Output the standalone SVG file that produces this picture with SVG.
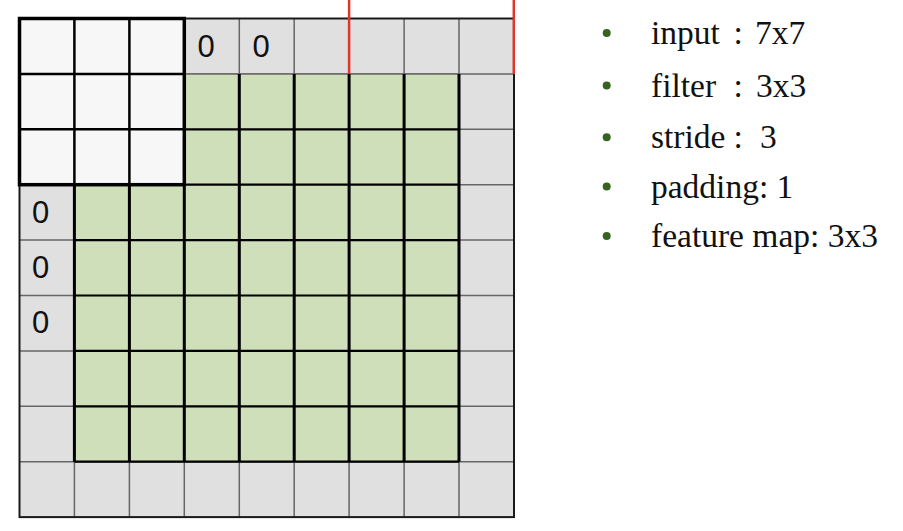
<svg xmlns="http://www.w3.org/2000/svg" width="903" height="531" viewBox="0 0 903 531">
<style>
.grayline{stroke:#666666;stroke-width:1.5;fill:none}
.vb{stroke:#000;stroke-width:3;fill:none}
.hb{stroke:#000;stroke-width:2.2;fill:none}
.zero{font-family:"Liberation Sans",Arial,sans-serif;font-size:31px;fill:#111}
.lg{font-family:"Liberation Serif","Times New Roman",serif;font-size:33.5px;fill:#111}
.bul{fill:#376321}
.red{stroke:#E0352B;stroke-width:2.5;fill:none}
</style>
<rect width="903" height="531" fill="#ffffff"/>

<g id="padding-grid">
<rect x="19.5" y="18.5" width="494.5" height="498.6" fill="#E0E0E0"/>
<path class="grayline" d="M74.4 18.5V517.1M129.4 18.5V517.1M184.3 18.5V517.1M239.3 18.5V517.1M294.2 18.5V517.1M349.1 18.5V517.1M404.1 18.5V517.1M459 18.5V517.1"/>
<path class="grayline" d="M19.5 73.9H514M19.5 129.3H514M19.5 184.7H514M19.5 240.1H514M19.5 295.5H514M19.5 350.9H514M19.5 406.3H514M19.5 461.7H514"/>
<text class="zero" x="197.5" y="56.5">0</text>
<text class="zero" x="252.5" y="56.5">0</text>
<text class="zero" x="32" y="222.5">0</text>
<text class="zero" x="32" y="277.9">0</text>
<text class="zero" x="32" y="333.3">0</text>
</g>

<g id="input-7x7">
<rect x="74.4" y="73.9" width="384.6" height="387.8" fill="#CEDFB9"/>
<path class="grayline" d="M74.4 73.9H459"/>
<path class="hb" d="M74.4 129.3H459M74.4 184.7H459M74.4 240.1H459M74.4 295.5H459M74.4 350.9H459M74.4 406.3H459M74.4 461.7H459"/>
<path class="vb" d="M74.4 73.9V461.7M129.4 73.9V461.7M184.3 73.9V461.7M239.3 73.9V461.7M294.2 73.9V461.7M349.1 73.9V461.7M404.1 73.9V461.7M459 73.9V461.7"/>
</g>

<g id="grid-border">
<rect x="19.5" y="18.5" width="494.5" height="498.6" fill="none" stroke="#1a1a1a" stroke-width="2"/>
</g>

<g id="filter-3x3">
<rect x="19.5" y="18.5" width="164.8" height="166.2" fill="#F7F7F7"/>
<path stroke="#000" stroke-width="2.5" fill="none" d="M74.4 18.5V184.7M129.4 18.5V184.7M19.5 73.9H184.3M19.5 129.3H184.3"/>
<rect x="19.5" y="18.5" width="164.8" height="166.2" fill="none" stroke="#000" stroke-width="3.5"/>
</g>

<g id="next-filter-marker">
<path class="red" d="M349.1 0V73.9M513.8 0V73.9"/>
</g>

<g id="legend">
<g id="item-input"><circle class="bul" cx="606.7" cy="33" r="4"/><text class="lg" y="44"><tspan x="651">input </tspan><tspan x="733.5">: </tspan><tspan x="755">7x7</tspan></text></g>
<g id="item-filter"><circle class="bul" cx="606.7" cy="85.5" r="4"/><text class="lg" y="96.5"><tspan x="651">filter </tspan><tspan x="733.5">: </tspan><tspan x="756">3x3</tspan></text></g>
<g id="item-stride"><circle class="bul" cx="606.7" cy="137.3" r="4"/><text class="lg" y="148.3"><tspan x="651">stride </tspan><tspan x="733.5">: </tspan><tspan x="760">3</tspan></text></g>
<g id="item-padding"><circle class="bul" cx="606.7" cy="186.5" r="4"/><text class="lg" x="651" y="197.5">padding: 1</text></g>
<g id="item-feature"><circle class="bul" cx="606.7" cy="236" r="4"/><text class="lg" x="651" y="247">feature map: 3x3</text></g>
</g>
</svg>
